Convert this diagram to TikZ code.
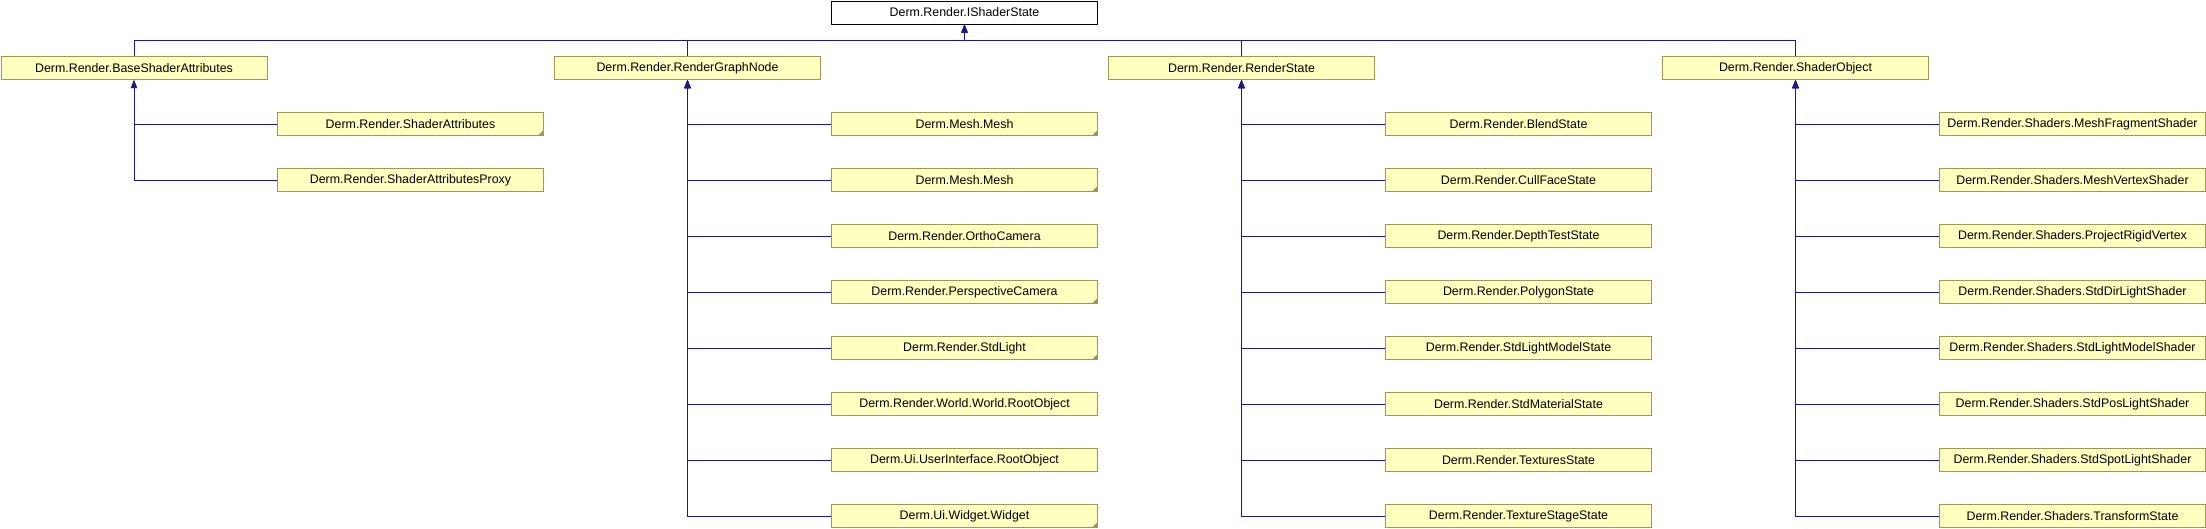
\documentclass[tikz,border=0pt]{standalone}
\usepackage{fontspec}
\setmainfont{Liberation Sans}
\usetikzlibrary{arrows.meta}
\definecolor{boxfill}{HTML}{FFFFC0}
\definecolor{boxline}{HTML}{9A9A50}
\definecolor{linkcol}{HTML}{1A1A8C}
\tikzset{
  cls/.style={draw=boxline, fill=boxfill, line width=1pt, minimum width=266pt, minimum height=23pt, inner sep=0pt, font=\fontsize{12.4}{14}\selectfont, anchor=north west},
  topcls/.style={cls, draw=black, fill=white},
  link/.style={draw=linkcol, line width=1pt, -{Triangle[length=8pt,width=6pt]}},
  corner/.style={fill=boxline}
}
\newcommand{\mkcorner}[1]{\fill[corner] ([xshift=-6pt,yshift=0.5pt]#1.south east) -- ([xshift=-0.5pt,yshift=0.5pt]#1.south east) -- ([xshift=-0.5pt,yshift=6pt]#1.south east) -- cycle;}
\begin{document}
\begin{tikzpicture}[x=1pt,y=-1pt]
\useasboundingbox (0,0) rectangle (2206,528);
% top
\node[topcls] (top) at (831,0.5) {Derm.Render.IShaderState};
% parents
\node[cls] (p1) at (0.5,56) {Derm.Render.BaseShaderAttributes};
\node[cls] (p2) at (554,56) {Derm.Render.RenderGraphNode};
\node[cls] (p3) at (1108,56) {Derm.Render.RenderState};
\node[cls] (p4) at (1662,56) {Derm.Render.ShaderObject};
\foreach \p in {p1,p2,p3,p4}{
  \draw[link] (\p.north) -- ++(0,-16) -| (top.south);
}
% column 1 children
\foreach \t [count=\i from 0] in {Derm.Render.ShaderAttributes, Derm.Render.ShaderAttributesProxy}{
  \node[cls] (a\i) at (277,112+56*\i) {\t};
  \draw[link] (a\i.west) -| (p1.south);
}
% column 2 children
\foreach \t [count=\i from 0] in {Derm.Mesh.Mesh, Derm.Mesh.Mesh, Derm.Render.OrthoCamera, Derm.Render.PerspectiveCamera, Derm.Render.StdLight, Derm.Render.World.World.RootObject, Derm.Ui.UserInterface.RootObject, Derm.Ui.Widget.Widget}{
  \node[cls] (b\i) at (831,112+56*\i) {\t};
  \draw[link] (b\i.west) -| (p2.south);
}
% column 3 children
\foreach \t [count=\i from 0] in {Derm.Render.BlendState, Derm.Render.CullFaceState, Derm.Render.DepthTestState, Derm.Render.PolygonState, Derm.Render.StdLightModelState, Derm.Render.StdMaterialState, Derm.Render.TexturesState, Derm.Render.TextureStageState}{
  \node[cls] (c\i) at (1385,112+56*\i) {\t};
  \draw[link] (c\i.west) -| (p3.south);
}
% column 4 children
\foreach \t [count=\i from 0] in {Derm.Render.Shaders.MeshFragmentShader, Derm.Render.Shaders.MeshVertexShader, Derm.Render.Shaders.ProjectRigidVertex, Derm.Render.Shaders.StdDirLightShader, Derm.Render.Shaders.StdLightModelShader, Derm.Render.Shaders.StdPosLightShader, Derm.Render.Shaders.StdSpotLightShader, Derm.Render.Shaders.TransformState}{
  \node[cls] (d\i) at (1939,112+56*\i) {\t};
  \draw[link] (d\i.west) -| (p4.south);
}
% truncated markers
\mkcorner{a0}
\mkcorner{b0}
\mkcorner{b1}
\mkcorner{b3}
\mkcorner{b4}
\mkcorner{b7}
\end{tikzpicture}
\end{document}
